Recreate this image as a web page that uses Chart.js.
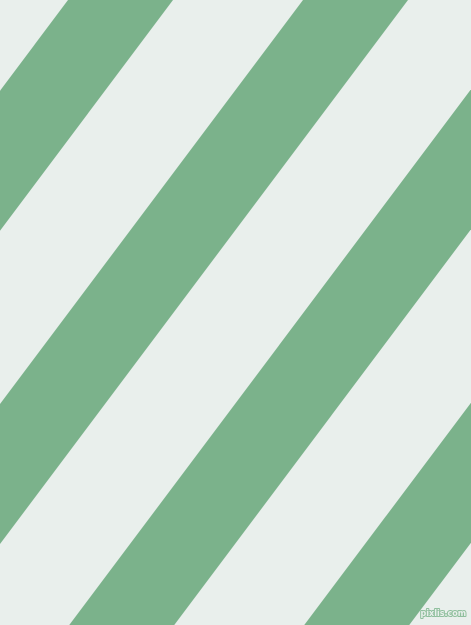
<!DOCTYPE html>
<html>
<head>
<meta charset="utf-8">
<script src="https://cdn.jsdelivr.net/npm/chart.js@4/dist/chart.umd.min.js"></script>
<style>
  html, body { margin: 0; padding: 0; background: #e9efec; }
  #wrap { width: 471px; height: 625px; }
</style>
</head>
<body>
<div id="wrap"><canvas id="stripes" width="471" height="625"></canvas></div>
<script>
// Полосы: x левого края каждой зелёной полосы на верхней кромке
var stripeStarts = [-167, 68, 303, 538, 773];
var stripeWidth = 105;
var slope = 4 / 3; // dy/dx
var canvasW = 471, canvasH = 625;

var green = '#7bb28b';
var light = '#e9efec';

// Каждая полоса - замкнутый четырёхугольник
var datasets = stripeStarts.map(function(c) {
    var shift = canvasH / slope;
    return {
        data: [
            { x: c, y: 0 },
            { x: c + stripeWidth, y: 0 },
            { x: c + stripeWidth - shift, y: canvasH },
            { x: c - shift, y: canvasH },
            { x: c, y: 0 }
        ],
        showLine: true,
        fill: 'shape',
        backgroundColor: green,
        borderWidth: 0,
        pointRadius: 0,
        tension: 0
    };
});

// Подпись в правом нижнем углу
var watermark = {
    id: 'watermark',
    afterDraw: function(chart) {
        var ctx = chart.ctx;
        ctx.save();
        ctx.font = 'bold 8px "DejaVu Sans"';
        ctx.textAlign = 'right';
        ctx.textBaseline = 'alphabetic';
        ctx.lineJoin = 'round';
        ctx.lineWidth = 2;
        ctx.strokeStyle = '#8fbf9d';
        ctx.strokeText('pixlis.com', 466, 616);
        ctx.fillStyle = light;
        ctx.fillText('pixlis.com', 466, 616);
        ctx.restore();
    }
};

var ctx = document.getElementById('stripes').getContext('2d');
var chart = new Chart(ctx, {
    type: 'scatter',
    data: { datasets: datasets },
    options: {
        responsive: false,
        animation: false,
        devicePixelRatio: 1,
        layout: { padding: 0 },
        plugins: {
            legend: { display: false },
            tooltip: { enabled: false }
        },
        scales: {
            x: { type: 'linear', min: 0, max: canvasW, display: false },
            y: { type: 'linear', min: 0, max: canvasH, reverse: true, display: false }
        }
    },
    plugins: [watermark]
});
</script>
</body>
</html>
